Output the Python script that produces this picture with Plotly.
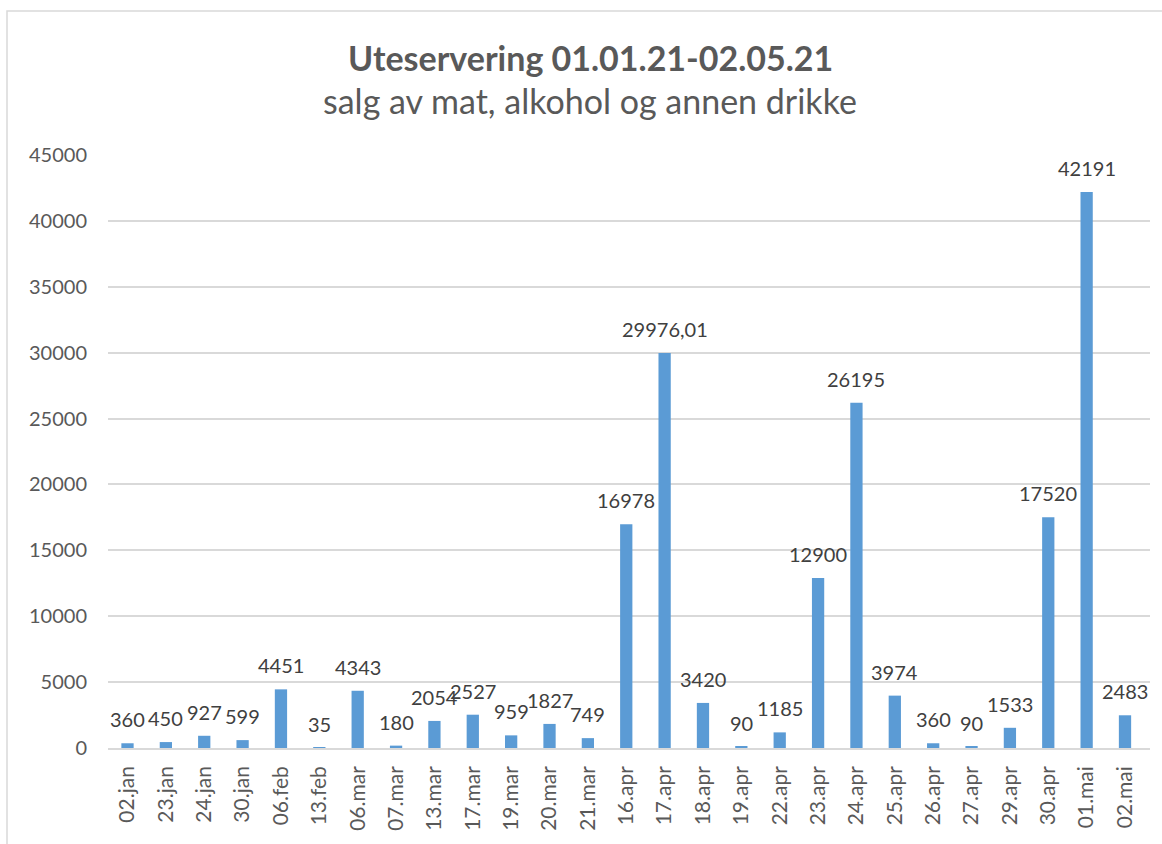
import plotly.graph_objects as go

categories = ["02.jan", "23.jan", "24.jan", "30.jan", "06.feb", "13.feb", "06.mar", "07.mar",
              "13.mar", "17.mar", "19.mar", "20.mar", "21.mar", "16.apr", "17.apr", "18.apr",
              "19.apr", "22.apr", "23.apr", "24.apr", "25.apr", "26.apr", "27.apr", "29.apr",
              "30.apr", "01.mai", "02.mai"]
values = [360, 450, 927, 599, 4451, 35, 4343, 180, 2054, 2527, 959, 1827, 749, 16978,
          29976.01, 3420, 90, 1185, 12900, 26195, 3974, 360, 90, 1533, 17520, 42191, 2483]
labels = [str(v).replace(".", ",") for v in values]
y_ticks = [0, 5000, 10000, 15000, 20000, 25000, 30000, 35000, 40000, 45000]

FONT = "Lato"
TXT = "#595959"

fig = go.Figure()
fig.add_trace(go.Bar(x=categories, y=values, marker_color="#5B9BD5",
                     marker_line_width=0, hoverinfo="x+y"))

annotations = []
for c, v, t in zip(categories, values, labels):
    annotations.append(dict(x=c, y=v, xref="x", yref="y", text=t, showarrow=False,
                            yanchor="middle", yshift=24,
                            font=dict(family=FONT, size=20, color="#404040")))

L, R, T, B = 108, 12, 155, 96
W, H = 1162, 844
pw = W - L - R
ph = H - T - B

def px_x(p):
    return (p - L) / pw

def px_y(p):
    return (H - B - p) / ph

annotations.append(dict(xref="paper", yref="paper", x=px_x(590), y=px_y(57),
                        text="<b>Uteservering 01.01.21-02.05.21</b>", showarrow=False,
                        xanchor="center", yanchor="middle",
                        font=dict(family=FONT, size=34, color=TXT)))
annotations.append(dict(xref="paper", yref="paper", x=px_x(590), y=px_y(100),
                        text="salg av mat, alkohol og annen drikke", showarrow=False,
                        xanchor="center", yanchor="middle",
                        font=dict(family=FONT, size=34, color=TXT)))

fig.update_layout(
    width=W, height=H,
    margin=dict(l=L, r=R, t=T, b=B),
    paper_bgcolor="white", plot_bgcolor="white",
    bargap=0.68,
    showlegend=False,
    annotations=annotations,
    shapes=[dict(type="rect", xref="paper", yref="paper",
                 x0=px_x(7), x1=px_x(1200), y0=px_y(900), y1=px_y(11),
                 line=dict(color="#D9D9D9", width=1.5), fillcolor="rgba(0,0,0,0)",
                 layer="below")],
    xaxis=dict(type="category", tickangle=-90, showgrid=False, showline=True,
               linecolor="#D9D9D9", linewidth=1.5, ticks="",
               tickfont=dict(family=FONT, size=21, color=TXT), ticklabelstandoff=8),
    yaxis=dict(range=[0, 45000], tickvals=y_ticks, tickformat="d", showgrid=True,
               gridcolor="#D9D9D9", gridwidth=1.5, zeroline=False, showline=False,
               ticks="", tickfont=dict(family=FONT, size=20, color=TXT),
               ticklabelstandoff=20),
)

fig.write_html("out.html", config={"displayModeBar": False},
               post_script="document.body.style.margin='0';document.body.style.overflow='hidden';")
